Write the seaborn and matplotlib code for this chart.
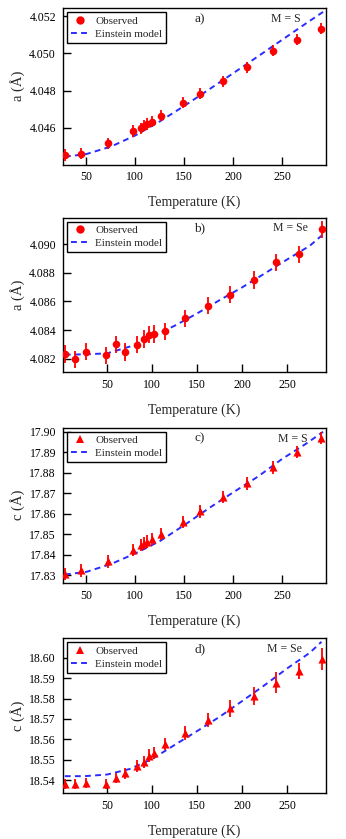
import numpy as np
import pandas as pd
import matplotlib
matplotlib.use("Agg")
import matplotlib.pyplot as plt
from matplotlib.lines import Line2D
import seaborn as sns

# ---------------- data ----------------
# panel a : a (Å), M = S
temp_s = [28.2, 44.5, 71.8, 98.0, 106.2, 108.9, 111.7, 116.8, 126.7, 148.8,
          166.2, 189.4, 214.6, 240.5, 265.3, 290.2]
a_s_obs = [4.04455, 4.04461, 4.04518, 4.04584, 4.04598, 4.04611, 4.04621, 4.04634,
           4.04666, 4.04736, 4.04784, 4.04850, 4.04925, 4.05013, 4.05073, 4.05132]
a_s_err = [0.0003] * 16
model_t_s = [28, 50, 75, 100, 125, 150, 175, 200, 225, 250, 275, 292]
a_s_model = [4.04446, 4.04460, 4.04500, 4.04560, 4.04635, 4.04718, 4.04805,
             4.04893, 4.04982, 4.05072, 4.05162, 4.05222]

# panel b : a (Å), M = Se
temp_se = [3.3, 14.1, 26.3, 48.5, 59.3, 70.0, 83.3, 91.1, 97.0, 101.5, 114.1,
           136.7, 162.2, 186.7, 212.6, 237.8, 263.3, 288.1]
a_se_obs = [4.08233, 4.08195, 4.08249, 4.08223, 4.08300, 4.08247, 4.08298, 4.08337,
            4.08367, 4.08372, 4.08391, 4.08481, 4.08570, 4.08647, 4.08749, 4.08874,
            4.08928, 4.09102]
a_se_err = [0.0006] * 18
model_t_se = [3, 25, 50, 75, 100, 125, 150, 175, 200, 225, 250, 275, 288]
a_se_model = [4.08228, 4.08230, 4.08237, 4.08284, 4.08353, 4.08430, 4.08516,
              4.08609, 4.08698, 4.08795, 4.08893, 4.08988, 4.09058]

# panel c : c (Å), M = S
c_s_obs = [17.8305, 17.8323, 17.8367, 17.8422, 17.8447, 17.8458, 17.8464, 17.8477,
           17.8502, 17.8559, 17.8611, 17.8683, 17.8748, 17.8826, 17.8901, 17.8971]
c_s_err = [0.003] * 16
c_s_model = [17.8303, 17.8316, 17.8354, 17.8406, 17.8466, 17.8544, 17.8626,
             17.8704, 17.8780, 17.8867, 17.8943, 17.9000]

# panel d : c (Å), M = Se
c_se_obs = [18.5382, 18.5382, 18.5385, 18.5382, 18.5410, 18.5434, 18.5468, 18.5490,
            18.5521, 18.5532, 18.5578, 18.5630, 18.5695, 18.5752, 18.5811, 18.5878,
            18.5935, 18.5994]
c_se_err = [0.0025, 0.0025, 0.0025, 0.0025, 0.0025, 0.0028, 0.003, 0.003, 0.003,
            0.003, 0.003, 0.0035, 0.0035, 0.004, 0.0045, 0.005, 0.0037, 0.0054]
c_se_model = [18.5420, 18.5420, 18.5428, 18.5455, 18.5504, 18.5573, 18.5641,
              18.5711, 18.5788, 18.5866, 18.5948, 18.6024, 18.6078]

# ---------------- style ----------------
sns.set_style("ticks")
plt.rcParams["font.family"] = ["Liberation Serif", "DejaVu Serif"]
plt.rcParams["mathtext.fontset"] = "stix"

RED = "#ff0000"
BLUE = "#2b2bff"

fig = plt.figure(figsize=(3.46, 8.39), dpi=100)

W, H = 346.0, 839.0
left_px, right_px = 63, 326
panel_px = [(8, 164.5), (217.7, 371.7), (427.7, 582.7), (638.3, 792.7)]

panels = [
    dict(t=temp_s, y=a_s_obs, e=a_s_err, mt=model_t_s, my=a_s_model, marker="o",
         xlim=(26, 295), ylim=(4.04404, 4.05243), yticks=[4.046, 4.048, 4.050, 4.052],
         yfmt="{:.3f}", ylabel="a (Å)", tag="a)", m="M = S", mx=0.905),
    dict(t=temp_se, y=a_se_obs, e=a_se_err, mt=model_t_se, my=a_se_model, marker="o",
         xlim=(1, 293), ylim=(4.08109, 4.09184),
         yticks=[4.082, 4.084, 4.086, 4.088, 4.090],
         yfmt="{:.3f}", ylabel="a (Å)", tag="b)", m="M = Se", mx=0.93),
    dict(t=temp_s, y=c_s_obs, e=c_s_err, mt=model_t_s, my=c_s_model, marker="^",
         xlim=(26, 295), ylim=(17.8263, 17.902),
         yticks=[17.83, 17.84, 17.85, 17.86, 17.87, 17.88, 17.89, 17.90],
         yfmt="{:.2f}", ylabel="c (Å)", tag="c)", m="M = S", mx=0.93),
    dict(t=temp_se, y=c_se_obs, e=c_se_err, mt=model_t_se, my=c_se_model, marker="^",
         xlim=(1, 293), ylim=(18.5339, 18.6095),
         yticks=[18.54, 18.55, 18.56, 18.57, 18.58, 18.59, 18.60],
         yfmt="{:.2f}", ylabel="c (Å)", tag="d)", m="M = Se", mx=0.91),
]

for (top, bot), p in zip(panel_px, panels):
    ax = fig.add_axes([left_px / W, (H - bot) / H, (right_px - left_px) / W, (bot - top) / H])
    # model curve
    sns.lineplot(x=p["mt"], y=p["my"], ax=ax, color=BLUE, linewidth=1.4,
                 estimator=None, sort=True, zorder=2)
    ax.lines[-1].set_dashes((3, 2.2))
    # error bars
    ax.errorbar(p["t"], p["y"], yerr=p["e"], fmt="none", ecolor=RED,
                elinewidth=1.3, capsize=0, zorder=3)
    # observed points
    sns.scatterplot(x=p["t"], y=p["y"], ax=ax, marker=p["marker"], color=RED,
                    s=30 if p["marker"] == "o" else 34, linewidth=0, zorder=4)

    ax.set_xlim(*p["xlim"])
    ax.set_ylim(*p["ylim"])
    ax.set_xticks([50, 100, 150, 200, 250])
    ax.set_yticks(p["yticks"])
    ax.set_yticklabels([p["yfmt"].format(v) for v in p["yticks"]])
    ax.tick_params(direction="in", length=6, width=1, labelsize=8.5, colors="black",
                   top=False, right=False, pad=5)
    for s in ax.spines.values():
        s.set_visible(True)
        s.set_linewidth(1)
        s.set_color("black")
    ax.set_xlabel("Temperature (K)", fontsize=10, labelpad=9)
    ax.set_ylabel(p["ylabel"], fontsize=10.5, labelpad=3)

    ax.text(0.52, 0.93, p["tag"], transform=ax.transAxes, ha="center", va="center",
            fontsize=9.5)
    ax.text(p["mx"], 0.93, p["m"], transform=ax.transAxes, ha="right", va="center",
            fontsize=8.5)

    handles = [
        Line2D([], [], marker=p["marker"], color=RED, linestyle="none", markersize=6,
               markeredgewidth=0),
        Line2D([], [], color=BLUE, linestyle=(0, (3, 2.2)), linewidth=1.4),
    ]
    leg = ax.legend(handles, ["Observed", "Einstein model"], loc="upper left",
                    bbox_to_anchor=(0.0, 1.0), fontsize=8, frameon=True, fancybox=False,
                    borderaxespad=0.35, handlelength=1.6, handletextpad=0.6,
                    borderpad=0.35, labelspacing=0.3)
    leg.get_frame().set_edgecolor("black")
    leg.get_frame().set_linewidth(1)
    leg.get_frame().set_alpha(1)

fig.savefig("out.png", dpi=100)
